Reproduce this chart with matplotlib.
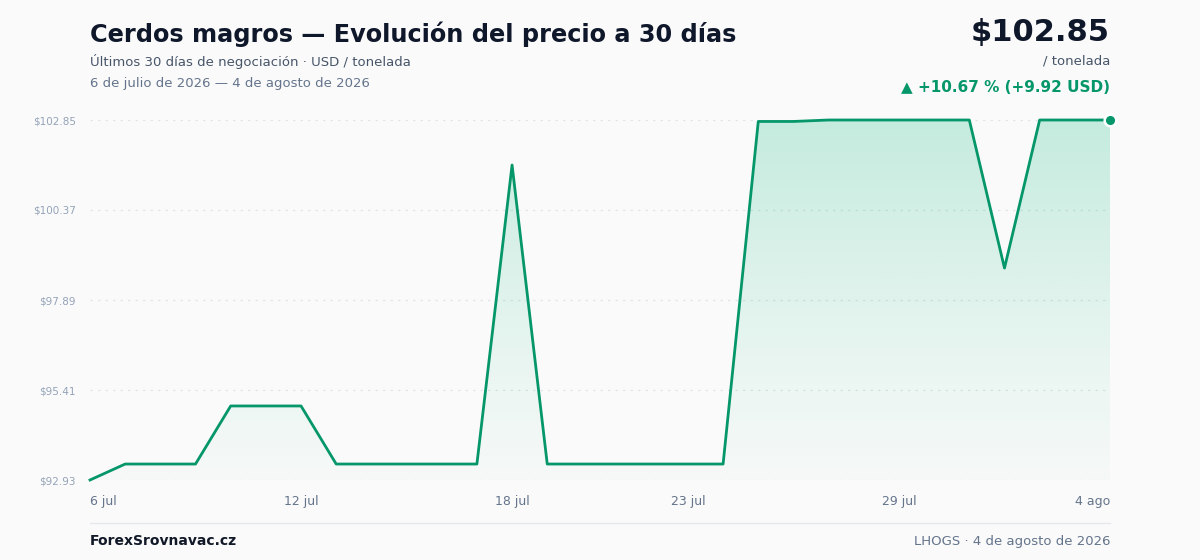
import matplotlib.pyplot as plt
import numpy as np
from matplotlib.patches import Polygon

plt.rcParams['font.family'] = ['DejaVu Sans']

# daily prices, 6 jul -> 4 ago 2026
days = list(range(30))
prices = [92.93, 93.37, 93.37, 93.37, 94.97, 94.97, 94.97, 93.37, 93.37, 93.37,
          93.37, 93.37, 101.61, 93.37, 93.37, 93.37, 93.37, 93.37, 93.37, 102.81,
          102.81, 102.85, 102.85, 102.85, 102.85, 102.85, 98.77, 102.85, 102.85, 102.85]
tick_pos = [0, 6, 12, 17, 23, 29]
tick_labels = ["6 jul", "12 jul", "18 jul", "23 jul", "29 jul", "4 ago"]
y_ticks = [92.93, 95.41, 97.89, 100.37, 102.85]

line_c = "#059669"
bg = "#fafafa"

fig = plt.figure(figsize=(12, 5.6), dpi=100, facecolor=bg)
ax = fig.add_axes([90/1200, 1 - 480/560, 1020/1200, 360/560])
ax.set_facecolor(bg)

ax.set_xlim(0, 29)
ax.set_ylim(min(prices), max(prices))

# gradient fill under the line
grad = np.linspace(0, 1, 256).reshape(-1, 1)
rgba = np.zeros((256, 1, 4))
rgba[..., 0] = 0x10 / 255
rgba[..., 1] = 0xb9 / 255
rgba[..., 2] = 0x81 / 255
rgba[..., 3] = 0.02 + grad ** 1.2 * 0.21
img = ax.imshow(rgba, extent=[0, 29, min(prices), max(prices)],
                origin="lower", aspect="auto", zorder=1)
verts = [(0, min(prices))] + list(zip(days, prices)) + [(29, min(prices))]
poly = Polygon(verts, closed=True, facecolor="none", edgecolor="none")
ax.add_patch(poly)
img.set_clip_path(poly)

ax.plot(days, prices, color=line_c, lw=2, zorder=3, clip_on=False)
ax.scatter([days[-1]], [prices[-1]], s=70, color=line_c, edgecolor="white",
           linewidth=1.8, zorder=4, clip_on=False)

for yv in y_ticks:
    ax.axhline(yv, color="#e2e5ea", lw=0.9, ls=(0, (2, 4)), zorder=0)

ax.set_yticks(y_ticks)
ax.set_yticklabels([f"${v:.2f}" for v in y_ticks], color="#94a3b8", fontsize=7.5)
ax.set_xticks(tick_pos)
ax.set_xticklabels(tick_labels, color="#64748b", fontsize=9)
ax.tick_params(length=0, axis="y", pad=10)
ax.tick_params(length=0, axis="x", pad=11)
for lbl, ha in zip(ax.get_xticklabels(), ["left", "center", "center", "center", "center", "right"]):
    lbl.set_ha(ha)
for s in ax.spines.values():
    s.set_visible(False)

# header
fig.text(90/1200, 1 - 34/560, "Cerdos magros — Evolución del precio a 30 días",
         fontsize=17.3, fontweight="bold", color="#0f172a", va="center")
fig.text(90/1200, 1 - 61/560, "Últimos 30 días de negociación · USD / tonelada",
         fontsize=9.5, color="#475569", va="center")
fig.text(90/1200, 1 - 84/560, "6 de julio de 2026 — 4 de agosto de 2026",
         fontsize=9.5, color="#64748b", va="center")
fig.text(1110/1200, 1 - 33/560, "$102.85", fontsize=22, fontweight="bold",
         color="#0f172a", ha="right", va="center")
fig.text(1110/1200, 1 - 61/560, "/ tonelada", fontsize=9.5, color="#475569",
         ha="right", va="center")
fig.text(1110/1200, 1 - 87/560, "▲ +10.67 % (+9.92 USD)", fontsize=11,
         fontweight="bold", color=line_c, ha="right", va="center")

# footer
fig.add_artist(plt.Line2D([90/1200, 1110/1200], [1 - 523/560, 1 - 523/560],
                          color="#e5e7eb", lw=1))
fig.text(90/1200, 1 - 541/560, "ForexSrovnavac.cz", fontsize=10, fontweight="bold",
         color="#111827", va="center")
fig.text(1110/1200, 1 - 541/560, "LHOGS · 4 de agosto de 2026", fontsize=9.5,
         color="#64748b", ha="right", va="center")

fig.savefig("out.png", dpi=100, facecolor=bg)
